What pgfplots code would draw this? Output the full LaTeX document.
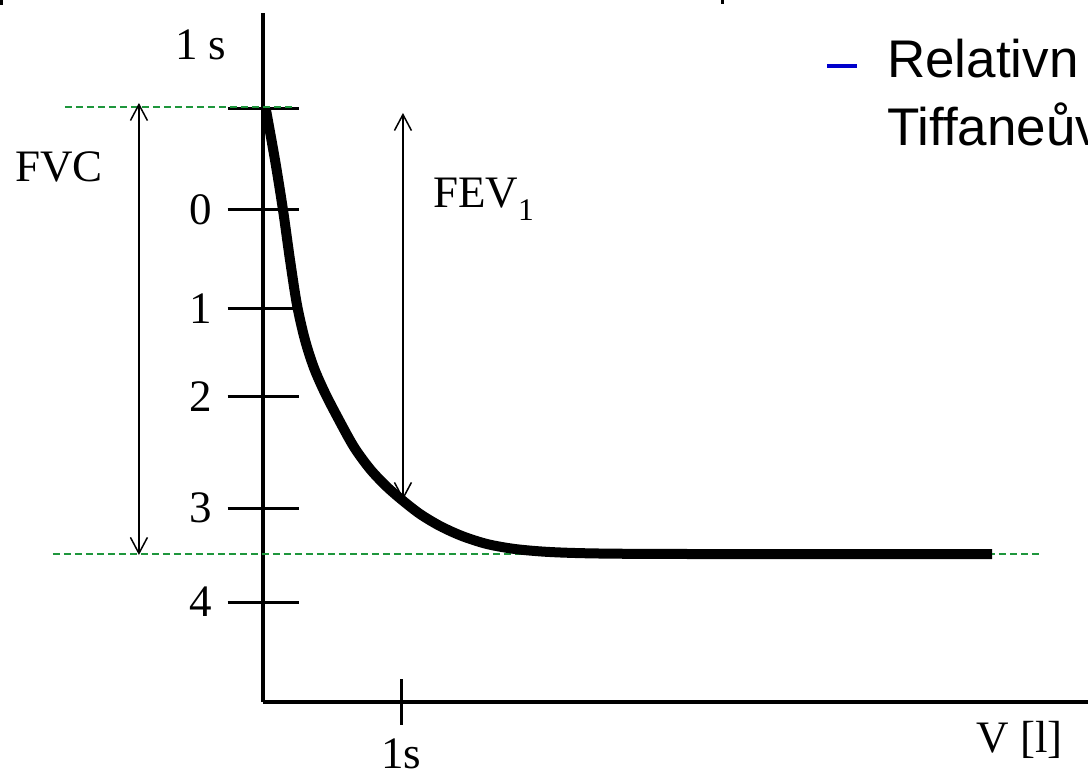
\documentclass[border=0pt]{standalone}
\usepackage{fontspec}
\setmainfont{Liberation Serif}
\newfontfamily\arial{Liberation Sans}
\usepackage{pgfplots}
\pgfplotsset{compat=1.18}
\usetikzlibrary{arrows.meta}
\definecolor{guide}{RGB}{30,150,60}
\definecolor{bullet}{RGB}{0,0,204}
\newcommand\labfont{\fontsize{45bp}{54bp}\selectfont}
\begin{document}
\begin{tikzpicture}[x=1bp,y=1bp]
\useasboundingbox (0,0) rectangle (1088,776);
\begin{axis}[
  at={(263bp,74bp)}, anchor=south west,
  width=825bp, height=689bp, scale only axis,
  xmin=0, xmax=5.978, ymin=-5.020, ymax=2.010,
  axis x line=bottom, axis y line=left,
  axis line style={line width=4bp, -},
  tick style={line width=3bp, black},
  tick align=center,
  major tick length=71bp,
  xtick=\empty,
  extra x ticks={1}, extra x tick labels={1s},
  extra x tick style={major tick length=46bp},
  ytick={-4,-3.041,-1.908,-1.010,0,1.031},
  yticklabels={4,3,2,1,0,},
  tick label style={font=\labfont},
  yticklabel style={xshift=-12bp},
  xticklabel style={yshift=-10bp},
  clip=false,
]
% FVC baseline (end of expiration)
\addplot[guide, line width=2bp, dash pattern=on 7bp off 4bp] coordinates {(-1.522,-3.515) (5.623,-3.515)};
% forced expiration curve
\addplot[line width=10bp, smooth, tension=0.5] coordinates {
  (0.0217,1.0204) (0.0870,0.5102) (0.1449,0) (0.1957,-0.5102) (0.2464,-0.9694)
  (0.3043,-1.3265) (0.3696,-1.6122) (0.4493,-1.8673) (0.5507,-2.1429)
  (0.6594,-2.4184) (0.7754,-2.6429) (0.8913,-2.8163) (1.0072,-2.9592)
  (1.1377,-3.1020) (1.2826,-3.2245) (1.4420,-3.3265) (1.6232,-3.4082)
  (1.8261,-3.4592) (2.0797,-3.4898) (2.4420,-3.5051) (3.1667,-3.5102)
  (5.2826,-3.5102)};
% start level
\addplot[guide, line width=2bp, dash pattern=on 7bp off 4bp] coordinates {(-1.435,1.051) (0.232,1.051)};
% FVC and FEV1 arrows
\addplot[line width=1.5bp, {Straight Barb[length=16bp,width=17bp]}-{Straight Barb[length=16bp,width=17bp]}]
  coordinates {(-0.899,1.092) (-0.899,-3.520)};
\addplot[line width=1.5bp, {Straight Barb[length=16bp,width=17bp]}-{Straight Barb[length=16bp,width=17bp]}]
  coordinates {(1.014,0.990) (1.014,-2.959)};
\end{axis}
\node[anchor=base west, inner sep=0] at (175,716) {\labfont 1 s};
\node[anchor=base west, inner sep=0] at (15,594) {\labfont FVC};
\node[anchor=base west, inner sep=0] at (433,568) {\labfont FEV\textsubscript{1}};
\node[anchor=base east, inner sep=0] at (1063,23) {\labfont V [l]};
\draw[bullet, line width=4bp] (827,710) -- (857,710);
\node[anchor=base west, inner sep=0] at (887,698) {\arial\fontsize{53bp}{64bp}\selectfont Relativn};
\node[anchor=base west, inner sep=0] at (887,630) {\arial\fontsize{53bp}{64bp}\selectfont Tiffaneův};
% cut-off remnants of the slide title
\fill (0,771) rectangle (3,776);
\fill (721,772) rectangle (724,776);
\end{tikzpicture}
\end{document}
